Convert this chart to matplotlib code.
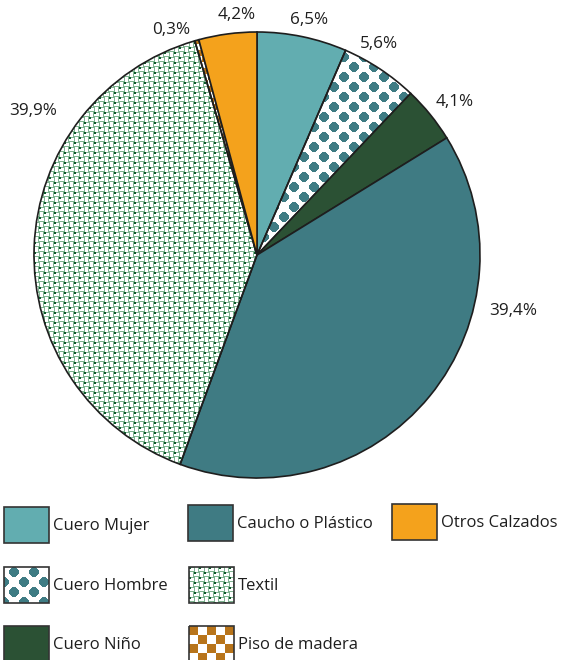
import numpy as np
import matplotlib.pyplot as plt
from matplotlib.colors import to_rgba
from matplotlib.patches import Rectangle

plt.rcParams['font.family'] = ['Open Sans', 'DejaVu Sans']

# Datos
categorias = ['Cuero Mujer', 'Cuero Hombre', 'Cuero Niño', 'Caucho o Plástico',
              'Textil', 'Piso de madera', 'Otros Calzados']
valores = [6.5, 5.6, 4.1, 39.4, 39.9, 0.3, 4.2]
etiquetas = ['6,5%', '5,6%', '4,1%', '39,4%', '39,9%', '0,3%', '4,2%']
rellenos = ['solid', 'dots', 'solid', 'solid', 'weave', 'checker', 'solid']
colores = ['#62adb0', '#3f7c84', '#2b5134', '#3f7b83', '#0d5a2c', '#b8741a', '#f4a21c']

# posiciones de las etiquetas (pixeles)
pos_etiquetas = [(309, 20), (379, 44), (455, 102), (513, 311), (33, 111), (171, 30), (237, 15)]
# leyenda: caja (x, y arriba) en pixeles
cajas = [(4, 507), (4, 567), (4, 626), (188, 505), (189, 567), (189, 626), (392, 504)]

W, H = 561, 660
cx, cy, R = 257, 255, 223
EDGE = '#1e1e1e'


def patron(kind, color, w, h, celda=6):
    yy, xx = np.mgrid[0:h, 0:w]
    img = np.ones((h, w, 4))
    c = np.array(to_rgba(color))
    if kind == 'dots':
        sx, sy, r = 20, 10, 4.8
        fila = np.floor(yy / sy)
        ox = (fila % 2) * sx / 2
        dx = (xx - ox) % sx - sx / 2 + 0.5
        dy = yy % sy - sy / 2 + 0.5
        img[dx ** 2 + dy ** 2 <= r ** 2] = c
    elif kind == 'checker':
        m = ((xx // celda) + (yy // celda)) % 2 == 0
        img[m] = c
    elif kind == 'weave':
        s = 5
        light = np.array(to_rgba('#7fb491'))
        horiz = ((xx // s) % 2) == ((yy // s) % 2)
        lx = xx % s
        ly = yy % s
        m_h = horiz & ((ly == 0) | (ly == s - 1))
        m_v = (~horiz) & ((lx == 0) | (lx == s - 1))
        img[m_h | m_v] = light
        dark = (xx % (2 * s) < 2) & (yy % (2 * s) < 2)
        dark |= ((xx + s) % (2 * s) < 2) & ((yy + s) % (2 * s) < 2)
        img[dark] = c
    return img


fig = plt.figure(figsize=(W / 100, H / 100), dpi=100)
ax = fig.add_axes([(cx - R) / W, (H - cy - R) / H, 2 * R / W, 2 * R / H])

wedges, _ = ax.pie(valores, colors=colores, startangle=90, counterclock=False,
                   radius=1, wedgeprops=dict(edgecolor=EDGE, linewidth=1.2))

for w_, f, c in zip(wedges, rellenos, colores):
    w_.set_zorder(3)
    if f == 'solid':
        continue
    w_.set_facecolor('none')
    im = ax.imshow(patron(f, c, 2 * R, 2 * R), extent=(-1, 1, -1, 1),
                   interpolation='nearest', zorder=2)
    im.set_clip_path(w_)

ax.set_xlim(-1, 1)
ax.set_ylim(-1, 1)
ax.set_aspect('equal')
ax.axis('off')

# capa en pixeles para textos y leyenda
lax = fig.add_axes([0, 0, 1, 1])
lax.set_xlim(0, W)
lax.set_ylim(H, 0)
lax.axis('off')

for t, (x, y) in zip(etiquetas, pos_etiquetas):
    lax.text(x, y, t, ha='center', va='center', fontsize=12.3, color=EDGE)

for i, (bx, by) in enumerate(cajas):
    bw, bh = 45, 36
    f = rellenos[i]
    rect = Rectangle((bx, by), bw, bh, facecolor=colores[i] if f == 'solid' else 'none',
                     edgecolor='#333333', linewidth=1.2, zorder=3)
    lax.add_patch(rect)
    if f != 'solid':
        im = lax.imshow(patron(f, colores[i], bw, bh, celda=9),
                        extent=(bx, bx + bw, by + bh, by), interpolation='nearest', zorder=2)
        im.set_clip_path(rect)
    lax.text(bx + bw + 4, by + bh / 2 + 1, categorias[i], ha='left', va='center',
             fontsize=12, color=EDGE)

lax.set_xlim(0, W)
lax.set_ylim(H, 0)

fig.savefig('out.png', dpi=100)
